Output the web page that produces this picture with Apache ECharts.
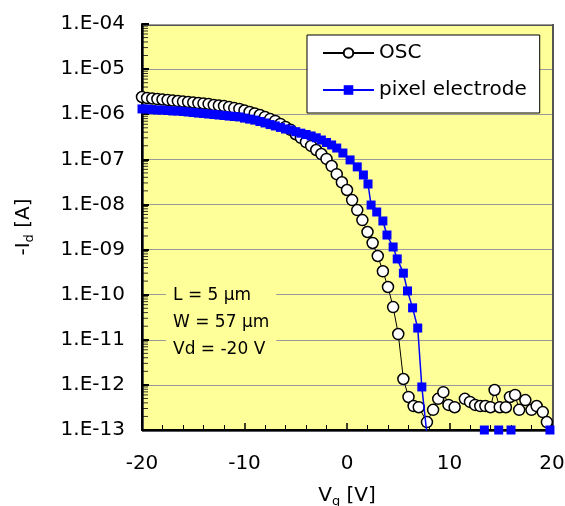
<!DOCTYPE html>
<html><head><meta charset="utf-8">
<script src="https://cdn.jsdelivr.net/npm/echarts@6/dist/echarts.min.js"></script>
<style>html,body{margin:0;padding:0;background:#fff}#c{width:565px;height:506px}</style>
</head><body><div id="c"></div>
<script>
// ---- data ----
const xTicks = [-20, -10, 0, 10, 20];
const yExponents = [-13, -12, -11, -10, -9, -8, -7, -6, -5, -4];
const yTickLabels = ['1.E-13','1.E-12','1.E-11','1.E-10','1.E-09','1.E-08','1.E-07','1.E-06','1.E-05','1.E-04'];
const minorMultipliers = [2, 3, 4, 5, 6, 7, 8, 9];
const seriesNames = ['OSC', 'pixel electrode'];
const annotation = ['L = 5 µm', 'W = 57 µm', 'Vd = -20 V'];

const oscV = [-20,-19.5,-19,-18.5,-18,-17.5,-17,-16.5,-16,-15.5,-15,-14.5,-14,-13.5,-13,-12.5,-12,-11.5,-11,-10.5,
  -10,-9.5,-9,-8.5,-8,-7.5,-7,-6.5,-6,-5.5,-5,-4.5,-4,-3.5,-3,-2.5,-2,-1.5,-1,-0.5,
  0,0.5,1,1.5,2,2.5,3,3.5,4,4.5,5,5.5,6,6.5,7,7.8,8.4,8.9,9.4,9.9,10.5,11.5,12,12.5,13,13.5,14,14.4,14.9,15.5,15.9,16.4,16.8,17.4,18,18.5,19.1,19.5];
const oscI = [2.41e-6,2.29e-6,2.23e-6,2.17e-6,2.12e-6,2.07e-6,2.01e-6,1.96e-6,1.91e-6,1.87e-6,1.82e-6,1.77e-6,1.73e-6,1.69e-6,1.60e-6,1.56e-6,1.52e-6,1.45e-6,1.37e-6,1.31e-6,
  1.21e-6,1.12e-6,1.04e-6,9.6e-7,8.7e-7,7.8e-7,7.1e-7,6.1e-7,5.2e-7,4.5e-7,3.6e-7,3.0e-7,2.42e-7,1.98e-7,1.61e-7,1.31e-7,1.02e-7,7.1e-8,4.7e-8,3.1e-8,
  2.09e-8,1.25e-8,7.5e-9,4.5e-9,2.45e-9,1.40e-9,7.2e-10,3.3e-10,1.48e-10,5.3e-11,1.34e-11,1.35e-12,5.4e-13,3.4e-13,3.2e-13,1.5e-13,2.8e-13,4.9e-13,6.9e-13,3.6e-13,3.2e-13,4.9e-13,4.2e-13,3.6e-13,3.4e-13,3.4e-13,3.2e-13,7.7e-13,3.2e-13,3.2e-13,5.4e-13,6.0e-13,2.8e-13,4.6e-13,2.8e-13,3.4e-13,2.5e-13,1.5e-13];

const pixV = [-20,-19.5,-19,-18.5,-18,-17.5,-17,-16.5,-16,-15.5,-15,-14.5,-14,-13.5,-13,-12.5,-12,-11.5,-11,-10.5,
  -10,-9.5,-9,-8.5,-8,-7.5,-7,-6.5,-6,-5.5,-5,-4.5,-4,-3.5,-3,-2.5,-2,-1.5,-1,-0.4,
  0.3,1.0,1.6,2.05,2.35,2.9,3.5,3.9,4.5,4.9,5.5,5.9,6.4,6.9,7.3,8.0,8.5,9,9.5,10,10.5,11,11.5,12,12.5,13,13.4,13.9,14.4,14.8,15.4,16.0,16.5,17,17.5,18,18.5,19,19.4,19.8];
const pixI = [1.31e-6,1.31e-6,1.27e-6,1.24e-6,1.24e-6,1.21e-6,1.18e-6,1.18e-6,1.15e-6,1.12e-6,1.09e-6,1.06e-6,1.04e-6,1.01e-6,9.86e-7,9.6e-7,9.37e-7,9.1e-7,8.9e-7,8.7e-7,
  8.2e-7,7.8e-7,7.4e-7,6.9e-7,6.4e-7,5.9e-7,5.5e-7,5.1e-7,4.7e-7,4.5e-7,4.1e-7,3.8e-7,3.55e-7,3.3e-7,3.0e-7,2.68e-7,2.36e-7,2.08e-7,1.78e-7,1.38e-7,
  9.7e-8,6.8e-8,4.5e-8,2.84e-8,9.7e-9,6.8e-9,4.3e-9,2.1e-9,1.14e-9,6.2e-10,3.0e-10,1.21e-10,5.1e-11,1.82e-11,9.0e-13,3e-14,1e-14,1e-14,1e-14,1e-14,1e-14,1e-14,1e-14,1e-14,1e-14,1e-14,1e-13,1e-14,1e-14,1e-13,1e-14,1e-13,1e-14,1e-14,1e-14,1e-14,1e-14,1e-14,1e-14,1e-13];

// ---- chart ----
const FONT = 'DejaVu Sans';
const xMin = xTicks[0], xMax = xTicks[xTicks.length - 1];
const yMin = Math.pow(10, yExponents[0]), yMax = Math.pow(10, yExponents[yExponents.length - 1]);
const minorTickData = [];
yExponents.slice(0, -1).forEach(e => minorMultipliers.forEach(m => minorTickData.push([xMin, m * Math.pow(10, e)])));

const G = {left: 142, right: 13, top: 24, bottom: 76};
const chart = echarts.init(document.getElementById('c'), null, {renderer: 'canvas'});
chart.setOption({
  animation: false,
  backgroundColor: '#ffffff',
  textStyle: {fontFamily: FONT},
  grid: {left: G.left, right: G.right, top: G.top, bottom: G.bottom, containLabel: false, outerBoundsMode: 'none', show: false},
  legend: {
    data: seriesNames, orient: 'vertical', left: 307, top: 35,
    padding: [8, 13, 13, 15], itemGap: 17, itemWidth: 51, itemHeight: 12,
    backgroundColor: '#fff', borderColor: '#000', borderWidth: 1, borderRadius: 0,
    textStyle: {fontSize: 20, fontFamily: FONT, color: '#000'}
  },
  xAxis: {
    type: 'value', min: xMin, max: xMax, interval: xTicks[1] - xTicks[0],
    name: 'V{sub|g} [V]', nameLocation: 'middle', nameGap: 53,
    nameTextStyle: {fontSize: 20, fontFamily: FONT, color: '#000', rich: {sub: {fontSize: 13, fontFamily: FONT, color: '#000', verticalAlign: 'bottom', padding: [12, 0, 0, 0]}}},
    axisLine: {show: true, onZero: false, lineStyle: {color: '#000', width: 2}},
    axisTick: {show: true, inside: true, length: 7, lineStyle: {color: '#000', width: 1.5}},
    minorTick: {show: true, splitNumber: 5, length: 5, lineStyle: {color: '#000', width: 1}},
    axisLabel: {fontSize: 20, fontFamily: FONT, color: '#000', margin: 24},
    splitLine: {show: false}
  },
  yAxis: {
    type: 'log', logBase: 10, min: yMin, max: yMax, interval: 1,
    name: '-I{sub|d} [A]', nameLocation: 'middle', nameGap: 106,
    nameTextStyle: {fontSize: 20, fontFamily: FONT, color: '#000', rich: {sub: {fontSize: 13, fontFamily: FONT, color: '#000', verticalAlign: 'bottom', padding: [12, 0, 0, 0]}}},
    axisLine: {show: true, onZero: false, lineStyle: {color: '#000', width: 2}},
    axisTick: {show: true, inside: true, length: 7, lineStyle: {color: '#000', width: 2}},
    axisLabel: {fontSize: 20, fontFamily: FONT, color: '#000', margin: 17,
      formatter: v => { const e = Math.round(Math.log10(v)); const i = yExponents.indexOf(e); return i >= 0 ? yTickLabels[i] : ''; }},
    splitLine: {show: true, lineStyle: {color: '#999', width: 1}}
  },
  graphic: [
    {type: 'rect', left: G.left, top: G.top, z: -10, silent: true,
      shape: {width: 565 - G.left - G.right, height: 506 - G.top - G.bottom},
      style: {fill: '#FFFF99', stroke: '#555', lineWidth: 2}},
    {type: 'text', left: 166, top: 279, z: 1,
      style: {text: annotation.join('\n'), fontSize: 17, fontFamily: FONT, lineHeight: 27, fill: '#000',
        backgroundColor: '#FFFF99', padding: [3, 7, 3, 7]}}
  ],
  series: [
    {
      type: 'scatter', silent: true, data: minorTickData, z: 2, clip: false,
      symbol: 'rect', symbolSize: [6, 1], symbolOffset: [3, 0],
      itemStyle: {color: '#000'}, emphasis: {disabled: true}
    },
    {
      name: seriesNames[0], type: 'line', data: oscV.map((v, i) => [v, oscI[i]]),
      symbol: 'circle', symbolSize: 11, showAllSymbol: true,
      itemStyle: {color: '#fff', borderColor: '#000', borderWidth: 1.5},
      lineStyle: {color: '#000', width: 1}, emphasis: {disabled: true}, z: 3
    },
    {
      name: seriesNames[1], type: 'line', data: pixV.map((v, i) => [v, pixI[i]]),
      symbol: 'rect', symbolSize: 9, showAllSymbol: true,
      itemStyle: {color: '#0000ff'},
      lineStyle: {color: '#0000ff', width: 1.5}, emphasis: {disabled: true}, z: 4
    }
  ]
});
</script>
</body></html>
